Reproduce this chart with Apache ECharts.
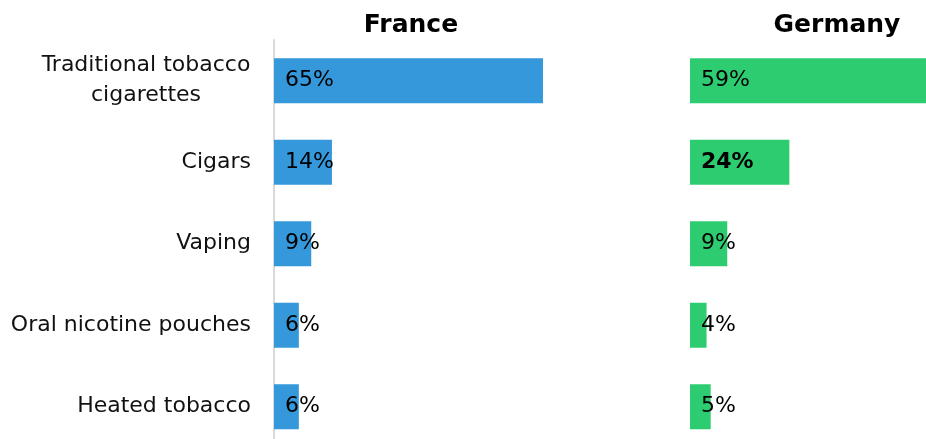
<!DOCTYPE html>
<html>
<head>
<meta charset="utf-8">
<script src="https://cdn.jsdelivr.net/npm/echarts@6/dist/echarts.min.js"></script>
<style>
  html, body { margin: 0; padding: 0; background: #ffffff; }
  #chart { width: 926px; height: 439px; }
</style>
</head>
<body>
<div id="chart"></div>
<script>
// Product categories, top to bottom
const categories = [
  'Traditional tobacco\ncigarettes',
  'Cigars',
  'Vaping',
  'Oral nicotine pouches',
  'Heated tobacco'
];
const panelTitles = ['France', 'Germany'];
// Share of respondents (%)
const franceValues = [65, 14, 9, 6, 6];
const germanyValues = [59, 24, 9, 4, 5];
// Value shown in bold
const germanyBoldIndex = 1;

const FONT = '"DejaVu Sans", Verdana, sans-serif';

const chart = echarts.init(document.getElementById('chart'), null, { renderer: 'canvas' });

function barLabel(bold) {
  return {
    show: true,
    position: 'insideLeft',
    distance: 11,
    formatter: p => p.value + '%',
    color: '#000000',
    fontFamily: FONT,
    fontSize: 22,
    fontWeight: bold ? 'bold' : 'normal'
  };
}

chart.setOption({
  animation: false,
  backgroundColor: '#ffffff',
  title: [
    {
      text: panelTitles[0], left: 406, top: 8, textAlign: 'center',
      textStyle: { fontFamily: FONT, fontSize: 25, fontWeight: 'bold', color: '#000000' }
    },
    {
      text: panelTitles[1], left: 832, top: 8, textAlign: 'center',
      textStyle: { fontFamily: FONT, fontSize: 25, fontWeight: 'bold', color: '#000000' }
    }
  ],
  grid: [
    { left: 274, top: 40, width: 269, height: 407.5, outerBoundsMode: 'none', containLabel: false },
    { left: 690, top: 40, width: 236, height: 407.5, outerBoundsMode: 'none', containLabel: false }
  ],
  xAxis: [
    { gridIndex: 0, type: 'value', min: 0, max: 65, show: false },
    { gridIndex: 1, type: 'value', min: 0, max: 57, show: false }
  ],
  yAxis: [
    {
      gridIndex: 0, type: 'category', data: categories, inverse: true,
      axisLine: { show: true, lineStyle: { color: '#d9d9d9', width: 2 } },
      axisTick: { show: false },
      splitLine: { show: false },
      axisLabel: {
        margin: 23,
        fontFamily: FONT,
        fontSize: 22,
        color: '#111111',
        lineHeight: 30,
        formatter: v => v.indexOf('\n') >= 0
          ? v.split('\n').map(s => '{c|' + s + '}').join('\n')
          : v,
        rich: {
          c: { width: 210, align: 'center', fontFamily: FONT, fontSize: 22, color: '#111111', lineHeight: 30 }
        }
      }
    },
    {
      gridIndex: 1, type: 'category', data: categories, inverse: true,
      show: false
    }
  ],
  series: [
    {
      type: 'bar', xAxisIndex: 0, yAxisIndex: 0,
      data: franceValues,
      barWidth: 45,
      itemStyle: { color: '#3498db' },
      label: barLabel(false)
    },
    {
      type: 'bar', xAxisIndex: 1, yAxisIndex: 1,
      data: germanyValues.map((v, i) => ({
        value: v,
        label: barLabel(i === germanyBoldIndex)
      })),
      barWidth: 45,
      itemStyle: { color: '#2ecc71' },
      label: barLabel(false)
    }
  ]
});
</script>
</body>
</html>
